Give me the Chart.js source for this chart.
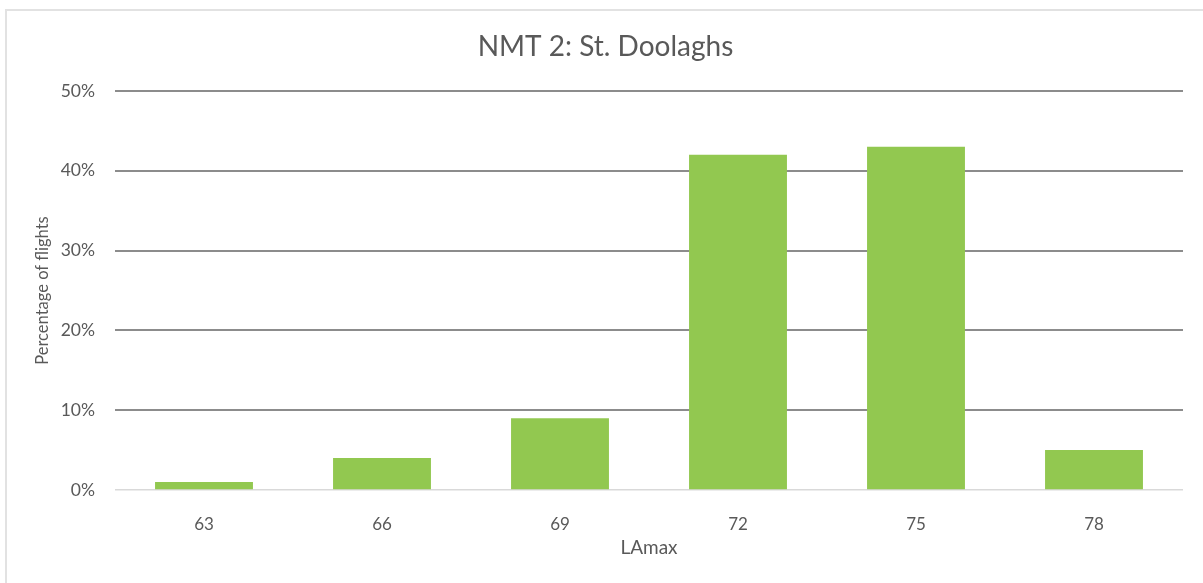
<!DOCTYPE html>
<html>
<head>
<meta charset="utf-8">
<title>NMT 2: St. Doolaghs</title>
<script src="https://cdn.jsdelivr.net/npm/chart.js@4"></script>
<style>
  html, body { margin: 0; padding: 0; background: #fff; overflow: hidden; }
  #wrap { position: relative; width: 1203px; height: 583px; }
  #frame {
    position: absolute; left: 5px; top: 9px; width: 1220px; height: 600px;
    border: 2px solid #e2e2e2; box-sizing: border-box;
  }
  #chart { position: absolute; left: 0; top: 0; }
</style>
</head>
<body>
<div id="wrap">
  <div id="frame"></div>
  <canvas id="chart" width="1203" height="583"></canvas>
</div>
<script>
// LAmax bins (dB) and share of flights in each bin (%)
const lamaxBins = ['63', '66', '69', '72', '75', '78'];
const flightShare = [1, 4, 9, 42, 43, 5];

// y-axis range in percent
const yMin = 0;
const yMax = 50;
const yStep = 10;

const textGrey = '#595959';
const fontFamily = 'Lato, "Open Sans", sans-serif';

const ctx = document.getElementById('chart').getContext('2d');
new Chart(ctx, {
  type: 'bar',
  data: {
    labels: lamaxBins,
    datasets: [{
      label: 'Percentage of flights',
      data: flightShare,
      backgroundColor: '#92C850',
      borderWidth: 0,
      barPercentage: 0.55,
      categoryPercentage: 1.0
    }]
  },
  options: {
    responsive: false,
    animation: false,
    layout: { padding: { left: 28, right: 20, top: 0, bottom: 0 } },
    plugins: {
      legend: { display: false },
      tooltip: { enabled: false },
      title: {
        display: true,
        text: 'NMT 2: St. Doolaghs',
        color: textGrey,
        font: { family: fontFamily, size: 28, weight: 'normal', lineHeight: 1.2 },
        padding: { top: 30.2, bottom: 27.2 }
      }
    },
    scales: {
      x: {
        grid: { display: false },
        border: { display: false },
        ticks: {
          color: textGrey,
          font: { family: fontFamily, size: 17 },
          padding: 16
        },
        title: {
          display: true,
          text: 'LAmax',
          color: textGrey,
          font: { family: fontFamily, size: 19, lineHeight: 1.2 },
          padding: { top: 10, bottom: 23.6 }
        },
        afterFit: (scale) => { scale.height = 93; }
      },
      y: {
        min: yMin,
        max: yMax,
        border: { display: false },
        grid: {
          drawTicks: false,
          lineWidth: (c) => (c.tick && c.tick.value === 0 ? 1.5 : 2),
          color: (c) => (c.tick && c.tick.value === 0 ? '#d9d9d9' : '#8c8c8c')
        },
        ticks: {
          stepSize: yStep,
          color: textGrey,
          font: { family: fontFamily, size: 17.5 },
          padding: 20,
          callback: (v) => v + '%'
        },
        title: {
          display: true,
          text: 'Percentage of flights',
          color: textGrey,
          font: { family: fontFamily, size: 16.5, lineHeight: 1.2 },
          padding: { top: 5, bottom: 0 }
        },
        afterFit: (scale) => { scale.width = 87; }
      }
    }
  }
});
</script>
</body>
</html>
